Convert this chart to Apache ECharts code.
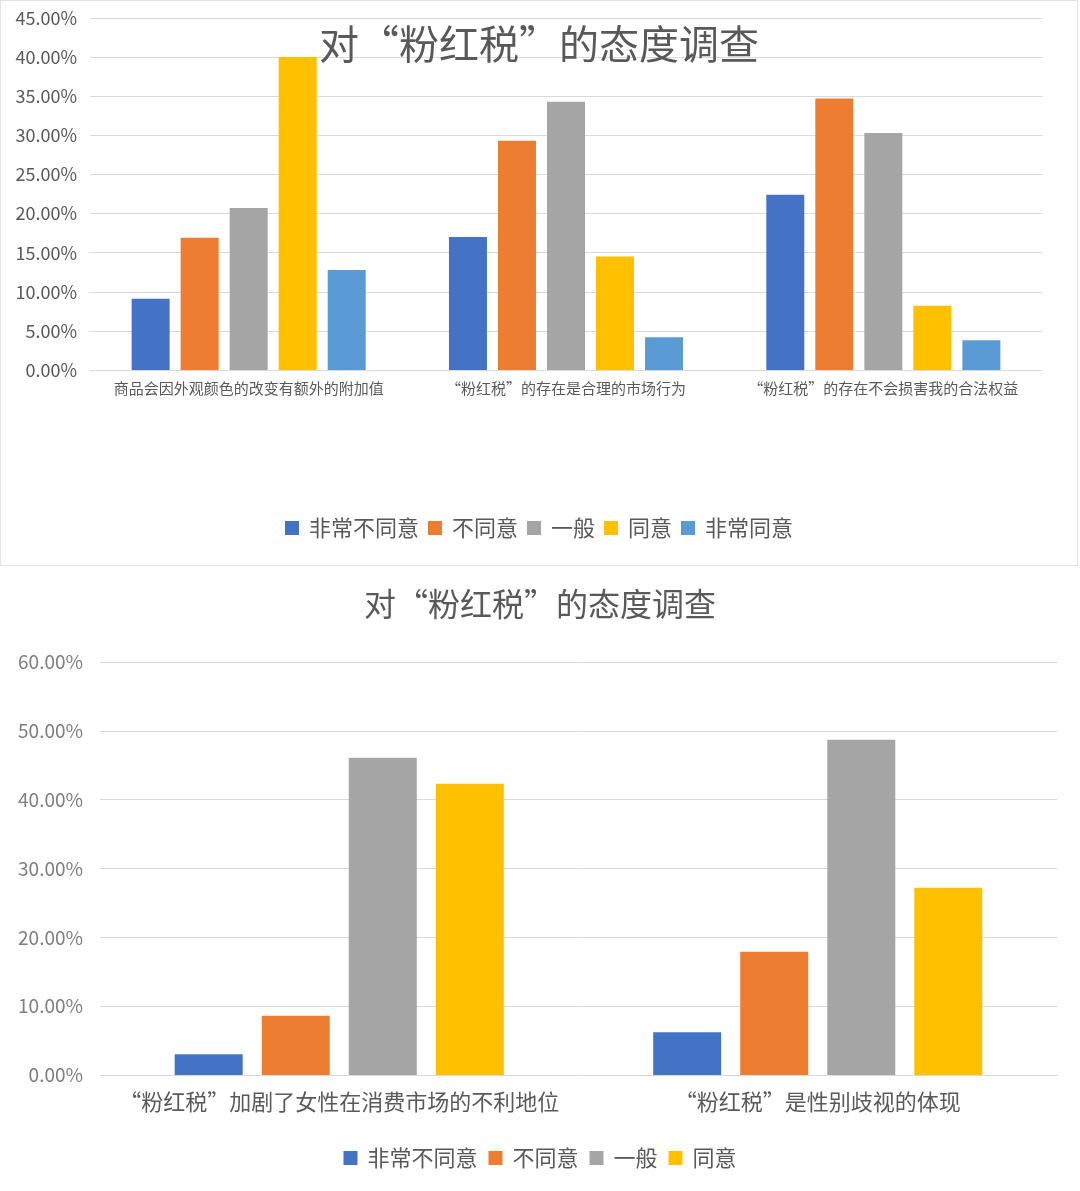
<!DOCTYPE html>
<html>
<head>
<meta charset="UTF-8">
<title>对“粉红税”的态度调查</title>
<script src="https://cdn.jsdelivr.net/npm/echarts@6/dist/echarts.min.js"></script>
<style>
	body { margin: 0; background: #fff; }
	#top_chart { position: absolute; left: 0; top: 0; width: 1076px; height: 564px; border: 1px solid #e3e3e3; }
	#bottom_chart { position: absolute; left: 0; top: 566px; width: 1080px; height: 625px; }
</style>
<script>
// 上图：三个问题，五个选项
var top_categories = ['商品会因外观颜色的改变有额外的附加值', '“粉红税”的存在是合理的市场行为', '“粉红税”的存在不会损害我的合法权益'];
var top_names = ['非常不同意', '不同意', '一般', '同意', '非常同意'];
var top_strong_disagree = [9.1, 17.0, 22.4];
var top_disagree = [16.9, 29.3, 34.7];
var top_neutral = [20.7, 34.3, 30.3];
var top_agree = [40.0, 14.5, 8.2];
var top_strong_agree = [12.8, 4.2, 3.8];

// 下图：两个问题，四个选项
var bottom_categories = ['“粉红税”加剧了女性在消费市场的不利地位', '“粉红税”是性别歧视的体现'];
var bottom_names = ['非常不同意', '不同意', '一般', '同意'];
var bottom_strong_disagree = [3.0, 6.2];
var bottom_disagree = [8.6, 17.9];
var bottom_neutral = [46.1, 48.7];
var bottom_agree = [42.3, 27.2];

var colors = ['#4472C4', '#ED7D31', '#A5A5A5', '#FFC000', '#5B9BD5'];
var font = '"Noto Sans CJK SC", "Noto Sans", sans-serif';
</script>
</head>
<body>
<div id="top_chart"></div>
<div id="bottom_chart"></div>
<script>
function pct(v) { return v.toFixed(2) + '%'; }

var top_values = [top_strong_disagree, top_disagree, top_neutral, top_agree, top_strong_agree];
var top_option = {
	color: colors,
	textStyle: { fontFamily: font },
	title: {
		text: '对“粉红税”的态度调查',
		left: 'center',
		top: 18,
		textStyle: { fontFamily: font, fontSize: 40, fontWeight: 'normal', color: '#595959' }
	},
	legend: {
		data: top_names,
		top: 511,
		left: 'center',
		icon: 'rect',
		itemWidth: 14,
		itemHeight: 14,
		itemGap: 9,
		textStyle: { fontFamily: font, fontSize: 22, color: '#595959', padding: [0, 0, 0, 5] }
	},
	grid: { left: 89, top: 17, width: 952, height: 352 },
	xAxis: {
		type: 'category',
		data: top_categories,
		axisLine: { lineStyle: { color: '#d9d9d9' } },
		axisTick: { show: false },
		axisLabel: { fontFamily: font, fontSize: 15, color: '#595959', margin: 11, interval: 0 }
	},
	yAxis: {
		type: 'value',
		min: 0,
		max: 45,
		interval: 5,
		axisLabel: { formatter: pct, fontFamily: font, fontSize: 18, color: '#595959', margin: 13 },
		splitLine: { lineStyle: { color: '#d9d9d9' } }
	},
	series: top_names.map(function (name, i) {
		return { name: name, type: 'bar', data: top_values[i], barWidth: 38, barGap: '29%' };
	})
};
var top_chart = echarts.init(document.getElementById('top_chart'));
top_chart.setOption(top_option);

var bottom_values = [bottom_strong_disagree, bottom_disagree, bottom_neutral, bottom_agree];
var bottom_option = {
	color: colors,
	textStyle: { fontFamily: font },
	title: {
		text: '对“粉红税”的态度调查',
		left: 'center',
		top: 17,
		textStyle: { fontFamily: font, fontSize: 32, fontWeight: 'normal', color: '#595959' }
	},
	legend: {
		data: bottom_names,
		top: 576,
		left: 'center',
		icon: 'rect',
		itemWidth: 14,
		itemHeight: 14,
		itemGap: 11,
		textStyle: { fontFamily: font, fontSize: 22, color: '#595959', padding: [0, 0, 0, 5] }
	},
	grid: { left: 100, top: 96, width: 957, height: 413 },
	xAxis: {
		type: 'category',
		data: bottom_categories,
		axisLine: { lineStyle: { color: '#d9d9d9' } },
		axisTick: { show: false },
		axisLabel: { fontFamily: font, fontSize: 22, color: '#595959', margin: 16, interval: 0 }
	},
	yAxis: {
		type: 'value',
		min: 0,
		max: 60,
		interval: 10,
		axisLabel: { formatter: pct, fontFamily: font, fontSize: 19, color: '#7f7f7f', margin: 17 },
		splitLine: { lineStyle: { color: '#d9d9d9' } }
	},
	series: bottom_names.map(function (name, i) {
		return { name: name, type: 'bar', data: bottom_values[i], barWidth: 68, barGap: '28%' };
	})
};
var bottom_chart = echarts.init(document.getElementById('bottom_chart'));
bottom_chart.setOption(bottom_option);
</script>
</body>
</html>
